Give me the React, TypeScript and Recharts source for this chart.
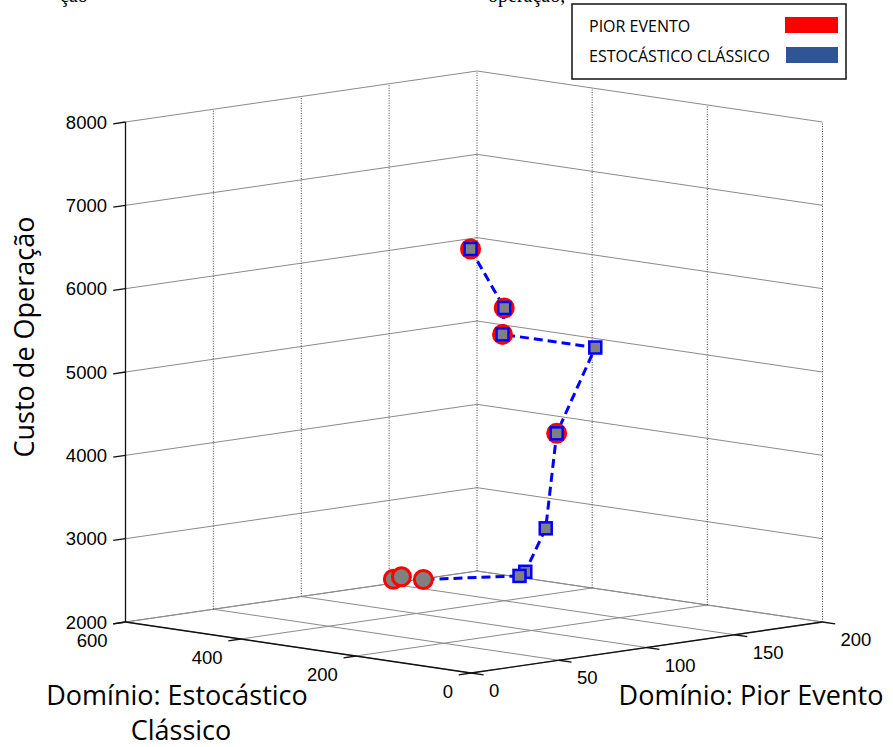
import { ComposedChart, Scatter, XAxis, YAxis } from 'recharts'

const W = 893
const H = 747

// ticks dos três eixos
const custoTicks = [2000, 3000, 4000, 5000, 6000, 7000, 8000]
const estocasticoTicks = [0, 200, 400, 600]
const piorTicks = [0, 50, 100, 150, 200]

// [Domínio Estocástico, Domínio Pior Evento, Custo de Operação]
const piorEvento = [
  [306, 100, 6470],
  [278, 110, 5760],
  [281, 110, 5440],
  [248, 130, 4225],
  [440, 100, 2370],
  [426, 100, 2415],
  [388, 100, 2420],
]

const estocasticoClassico = [
  [306, 100, 6470],
  [278, 110, 5760],
  [281, 110, 5440],
  [242, 150, 5200],
  [248, 130, 4225],
  [267, 130, 3066],
  [272, 120, 2570],
  [282, 120, 2510],
]

// linha tracejada: pontos do estocástico + último ponto do pior evento
const trajetoria = [...estocasticoClassico, [388, 100, 2420]]

// projeção 3D -> 2D (vista da câmera)
const E_MAX = 600
const P_MAX = 200
const Z_MIN = 2000
const Z_MAX = 8000
const proj = (e: number, p: number, z: number) => ({
  x: (-345.5 * e) / E_MAX + (351.5 * p) / P_MAX,
  y: (51 * e) / E_MAX + (51 * p) / P_MAX + ((z - Z_MIN) * 500) / (Z_MAX - Z_MIN),
})

const toPts = (arr: number[][]) => arr.map(([e, p, z]) => proj(e, p, z))

type Seg = { pts: { x: number; y: number }[]; stroke: string; width: number; dash?: string }

const grid: Seg[] = []
// piso
estocasticoTicks.forEach((e) =>
  grid.push({ pts: [proj(e, 0, Z_MIN), proj(e, P_MAX, Z_MIN)], stroke: '#8a8a8a', width: 1 })
)
piorTicks.forEach((p) =>
  grid.push({ pts: [proj(0, p, Z_MIN), proj(E_MAX, p, Z_MIN)], stroke: '#8a8a8a', width: 1 })
)
// paredes - linhas horizontais
custoTicks.forEach((z) =>
  grid.push({ pts: [proj(E_MAX, 0, z), proj(E_MAX, P_MAX, z), proj(0, P_MAX, z)], stroke: '#8a8a8a', width: 1 })
)
// paredes - linhas verticais
piorTicks.forEach((p) =>
  grid.push({ pts: [proj(E_MAX, p, Z_MIN), proj(E_MAX, p, Z_MAX)], stroke: '#444', width: 1, dash: '1 1.5' })
)
estocasticoTicks
  .filter((e) => e < E_MAX)
  .forEach((e) =>
    grid.push({ pts: [proj(e, P_MAX, Z_MIN), proj(e, P_MAX, Z_MAX)], stroke: '#444', width: 1, dash: '1 1.5' })
  )
// eixos
grid.push({ pts: [proj(E_MAX, 0, Z_MIN), proj(E_MAX, 0, Z_MAX)], stroke: '#111', width: 1.3 })
grid.push({ pts: [proj(0, 0, Z_MIN), proj(E_MAX, 0, Z_MIN)], stroke: '#111', width: 1.3 })
grid.push({ pts: [proj(0, 0, Z_MIN), proj(0, P_MAX, Z_MIN)], stroke: '#111', width: 1.3 })
// marcas dos ticks
custoTicks.forEach((z) =>
  grid.push({ pts: [proj(E_MAX, 0, z), proj(E_MAX, -7, z)], stroke: '#111', width: 1.3 })
)
estocasticoTicks.forEach((e) =>
  grid.push({ pts: [proj(e, 0, Z_MIN), proj(e, -7, Z_MIN)], stroke: '#111', width: 1.3 })
)
piorTicks.forEach((p) =>
  grid.push({ pts: [proj(0, p, Z_MIN), proj(-22, p, Z_MIN)], stroke: '#111', width: 1.3 })
)

const custoLabels = custoTicks.map((z) => ({ ...proj(E_MAX, 0, z), label: String(z) }))
const estocasticoLabels = estocasticoTicks.map((e) => ({ ...proj(e, 0, Z_MIN), label: String(e) }))
const piorLabels = piorTicks.map((p) => ({ ...proj(0, p, Z_MIN), label: String(p) }))

const tickFont = { fontFamily: 'Liberation Sans, Arial, sans-serif', fontSize: 18.5, fill: '#000' }
const titleFont = { fontFamily: 'Open Sans, sans-serif', fontSize: 27, fill: '#000' }

const labelShape = (dx: number, dy: number, anchor: 'start' | 'end') => (props: any) => (
  <text x={props.cx + dx} y={props.cy + dy} textAnchor={anchor} {...tickFont}>
    {props.payload.label}
  </text>
)

const Circulo = (props: any) => (
  <circle cx={props.cx} cy={props.cy} r={9} fill="#808080" stroke="#ff0000" strokeWidth={3} />
)

const Quadrado = (props: any) => (
  <rect x={props.cx - 6} y={props.cy - 6} width={12} height={12} fill="#808080" stroke="#0000ff" strokeWidth={2.5} />
)

const Nada = () => <g />

export default function App() {
  return (
    <div style={{ position: 'absolute', left: 0, top: 0, width: W, height: H, background: '#fff' }}>
      <ComposedChart width={W} height={H} margin={{ top: 0, right: 0, bottom: 0, left: 0 }}>
        <XAxis type="number" dataKey="x" domain={[-471, 422]} hide allowDataOverflow />
        <YAxis type="number" dataKey="y" domain={[-74, 673]} hide allowDataOverflow />

        {grid.map((s, i) => (
          <Scatter
            key={`g-${i}`}
            data={s.pts}
            line={{ stroke: s.stroke, strokeWidth: s.width, strokeDasharray: s.dash }}
            shape={Nada}
            isAnimationActive={false}
          />
        ))}

        <Scatter data={custoLabels} shape={labelShape(-18.5, 6.5, 'end')} isAnimationActive={false} />
        <Scatter data={estocasticoLabels} shape={labelShape(-18, 25, 'end')} isAnimationActive={false} />
        <Scatter data={piorLabels} shape={labelShape(18, 24, 'start')} isAnimationActive={false} />

        <Scatter
          data={toPts(trajetoria)}
          line={{ stroke: '#0000ff', strokeWidth: 3, strokeDasharray: '9 5' }}
          shape={Nada}
          isAnimationActive={false}
        />
        <Scatter data={toPts(piorEvento)} shape={Circulo} isAnimationActive={false} />
        <Scatter data={toPts(estocasticoClassico)} shape={Quadrado} isAnimationActive={false} />
      </ComposedChart>

      <svg width={W} height={H} style={{ position: 'absolute', left: 0, top: 0, pointerEvents: 'none' }}>
        <text x={60} y={2} fontFamily="Liberation Serif, serif" fontSize={20}>ção</text>
        <text x={488} y={2} fontFamily="Liberation Serif, serif" fontSize={20}>operação,</text>

        <text x={34} y={337} textAnchor="middle" transform="rotate(-90, 34, 337)" {...titleFont}>
          Custo de Operação
        </text>
        <text x={177} y={705} textAnchor="middle" {...titleFont}>Domínio: Estocástico</text>
        <text x={181} y={740} textAnchor="middle" {...titleFont}>Clássico</text>
        <text x={751} y={705} textAnchor="middle" {...titleFont}>Domínio: Pior Evento</text>

        <rect x={572} y={4} width={274} height={75} fill="#fff" stroke="#111" strokeWidth={1.5} />
        <text x={589} y={32} fontFamily="Open Sans, sans-serif" fontSize={16}>PIOR EVENTO</text>
        <rect x={785} y={17} width={53} height={16} fill="#ff0000" />
        <text x={589} y={62} fontFamily="Open Sans, sans-serif" fontSize={16}>ESTOCÁSTICO CLÁSSICO</text>
        <rect x={786} y={47} width={52} height={16} fill="#2f5597" />
      </svg>
    </div>
  )
}
